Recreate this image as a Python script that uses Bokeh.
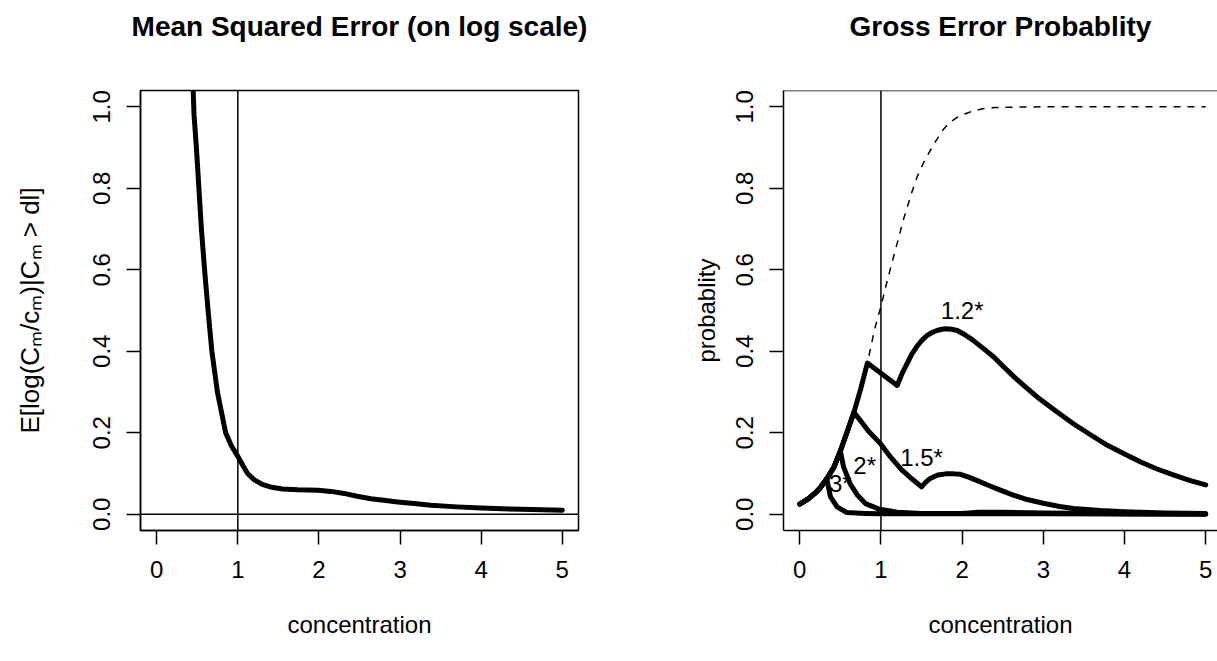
from bokeh.plotting import figure
from bokeh.models import Range1d, Span, FixedTicker, ColumnDataSource, Title
from bokeh.layouts import row
from bokeh.embed import file_html
from bokeh.resources import INLINE
from bokeh.core.properties import value

FONT = "Liberation Sans"

# ---- data -------------------------------------------------------------
x_ticks = [0, 1, 2, 3, 4, 5]
y_ticks = [0.0, 0.2, 0.4, 0.6, 0.8, 1.0]
y_tick_labels = {0.0: "0.0", 0.2: "0.2", 0.4: "0.4", 0.6: "0.6", 0.8: "0.8", 1.0: "1.0"}

# mean squared error of log concentration, given detection
mse_conc = [0.43, 0.46, 0.489, 0.52, 0.551, 0.59, 0.633, 0.68, 0.748, 0.85, 0.92, 1.0,
            1.06, 1.12, 1.2, 1.3, 1.42, 1.55, 1.74, 1.99, 2.15, 2.31, 2.47, 2.64, 2.8,
            2.97, 3.17, 3.38, 3.7, 4.0, 4.5, 5.0]
mse_val = [1.15, 0.98, 0.9, 0.8, 0.7, 0.6, 0.5, 0.4, 0.3, 0.2, 0.168, 0.142,
           0.12, 0.1, 0.085, 0.073, 0.066, 0.062, 0.06, 0.059, 0.056, 0.051, 0.044, 0.038,
           0.034, 0.03, 0.026, 0.022, 0.018, 0.015, 0.012, 0.01]

# common rising branch shared by all gross-error curves (and detection prob.)
rise_conc = [0.0, 0.1, 0.185, 0.25, 0.333, 0.42, 0.5, 0.58, 0.667, 0.75, 0.833]
rise_prob = [0.025, 0.037, 0.051, 0.064, 0.087, 0.115, 0.155, 0.2, 0.25, 0.307, 0.371]

# probability of detection (dashed), after the shared branch
detect_conc = [0.88, 0.93, 1.0, 1.08, 1.16, 1.22, 1.28, 1.38, 1.45, 1.53, 1.65, 1.77,
               1.85, 1.94, 2.04, 2.14, 2.25, 2.4, 2.6, 3.0, 4.0, 5.0]
detect_prob = [0.415, 0.46, 0.51, 0.575, 0.635, 0.68, 0.725, 0.79, 0.83, 0.865, 0.908, 0.945,
               0.962, 0.974, 0.983, 0.99, 0.995, 0.998, 0.999, 1.0, 1.0, 1.0]

# gross error probability for factor 1.2 (after its kink at 1/1.2)
ge12_conc = [1.2, 1.26, 1.32, 1.38, 1.45, 1.51, 1.57, 1.63, 1.69, 1.75, 1.8, 1.87, 1.94,
             2.04, 2.14, 2.26, 2.39, 2.51, 2.64, 2.8, 2.96, 3.17, 3.37, 3.58, 3.79, 4.0,
             4.2, 4.4, 4.61, 4.8, 5.0]
ge12_prob = [0.316, 0.345, 0.369, 0.393, 0.414, 0.428, 0.439, 0.446, 0.451, 0.454, 0.455,
             0.454, 0.451, 0.44, 0.426, 0.407, 0.386, 0.362, 0.337, 0.309, 0.282, 0.251,
             0.222, 0.195, 0.169, 0.148, 0.128, 0.111, 0.096, 0.083, 0.072]

# factor 1.5
ge15_conc = [0.75, 0.85, 1.0, 1.12, 1.25, 1.38, 1.5, 1.55, 1.6, 1.7, 1.8, 1.9, 1.98, 2.08,
             2.18, 2.32, 2.47, 2.63, 2.8, 3.0, 3.2, 3.37, 3.7, 4.0, 4.5, 5.0]
ge15_prob = [0.229, 0.203, 0.172, 0.14, 0.11, 0.087, 0.067, 0.078, 0.087, 0.096, 0.099,
             0.099, 0.098, 0.091, 0.083, 0.071, 0.059, 0.047, 0.036, 0.027, 0.019, 0.014,
             0.009, 0.006, 0.003, 0.002]

# factor 2
ge2_conc = [0.54, 0.62, 0.71, 0.81, 0.97, 1.2, 1.5, 2.0, 2.2, 2.5, 3.0, 4.0, 5.0]
ge2_prob = [0.116, 0.075, 0.047, 0.026, 0.013, 0.005, 0.002, 0.002, 0.005, 0.005, 0.003,
            0.001, 0.0005]

# factor 3
ge3_conc = [0.378, 0.46, 0.58, 0.8, 1.0, 3.0, 5.0]
ge3_prob = [0.043, 0.018, 0.004, 0.002, 0.001, 0.001, 0.0]

factors = [1.2, 1.5, 2.0, 3.0]
factor_labels = ["1.2*", "1.5*", "2*", "3*"]
label_conc = [2.0, 1.5, 0.8, 0.5]
label_prob = [0.5, 0.14, 0.12, 0.075]

X_LIM = (-0.2, 5.2)
Y_LIM = (-0.04, 1.04)


def kinked(factor, tail_x, tail_y):
    """Shared rising branch up to the kink at 1/factor, then the curve's own tail."""
    kink = 1.0 / factor
    xs = [x for x in rise_conc if x <= kink + 0.005]
    ys = rise_prob[:len(xs)]
    return xs + tail_x, ys + tail_y


def base_figure(width, border_left, border_right, x_end, title):
    p = figure(width=width, height=661,
               x_range=Range1d(X_LIM[0], x_end), y_range=Range1d(*Y_LIM),
               output_backend="svg", toolbar_location=None,
               min_border_left=border_left, min_border_right=border_right,
               min_border_top=90, min_border_bottom=131)
    p.xgrid.visible = False
    p.ygrid.visible = False
    p.background_fill_color = "white"
    p.border_fill_color = "white"

    # an invisible spacer line under the title lifts it into the upper margin
    p.add_layout(Title(text=" ", text_font=FONT, text_font_size="24px",
                       standoff=15), "above")
    p.add_layout(Title(text=title, align="center", standoff=10,
                       text_font=FONT, text_font_size="28px",
                       text_font_style="bold", text_color="black"), "above")

    for ax in (p.xaxis[0], p.yaxis[0]):
        ax.major_tick_out = 14
        ax.major_tick_in = 0
        ax.minor_tick_out = 0
        ax.minor_tick_in = 0
        ax.major_tick_line_width = 1.5
        ax.major_tick_line_color = "black"
        ax.axis_line_width = 1.5
        ax.axis_line_color = "black"
        ax.major_label_text_font = FONT
        ax.major_label_text_font_size = "24px"
        ax.major_label_text_color = "black"
        ax.axis_label_text_font = FONT
        ax.axis_label_text_font_size = "24px"
        ax.axis_label_text_font_style = "normal"
        ax.axis_label_text_color = "black"
        ax.major_label_standoff = 16

    p.xaxis.ticker = FixedTicker(ticks=x_ticks)
    p.yaxis.ticker = FixedTicker(ticks=y_ticks)
    p.yaxis.major_label_overrides = y_tick_labels
    p.yaxis.major_label_orientation = "vertical"
    p.xaxis.axis_label = "concentration"
    p.xaxis.axis_label_standoff = 30
    return p


# ---- left: mean squared error ----------------------------------------
left = base_figure(608, 140, 30, X_LIM[1], "Mean Squared Error (on log scale)")
left.outline_line_color = "black"
left.outline_line_width = 1.5
left.yaxis.axis_label = "E[log(C\u2098/c\u2098)|C\u2098 > dl]"
left.yaxis.axis_label_text_font_size = "26px"
left.yaxis.axis_label_standoff = 46

left.add_layout(Span(location=1, dimension="height", line_color="black", line_width=1.5))
left.add_layout(Span(location=0, dimension="width", line_color="black", line_width=1.5))
left.line(mse_conc, mse_val, line_color="black", line_width=5,
          line_join="round", line_cap="round")

# ---- right: gross error probability ----------------------------------
right = base_figure(609, 175, 0, 5.145, "Gross Error Probablity")
right.outline_line_color = None
right.yaxis.axis_label = "probablity"
right.yaxis.axis_label_standoff = 14
right.add_layout(Span(location=Y_LIM[1], dimension="width",
                      line_color="black", line_width=1.5))
right.add_layout(Span(location=1, dimension="height", line_color="black", line_width=1.5))

det_x = rise_conc + detect_conc
det_y = rise_prob + detect_prob
right.line(det_x, det_y, line_color="black", line_width=1.5, line_dash="7 7")

tails = [(ge12_conc, ge12_prob), (ge15_conc, ge15_prob),
         (ge2_conc, ge2_prob), (ge3_conc, ge3_prob)]
for factor, (tx, ty) in zip(factors, tails):
    xs, ys = kinked(factor, tx, ty)
    right.line(xs, ys, line_color="black", line_width=5,
               line_join="round", line_cap="round")

labels = ColumnDataSource(dict(x=label_conc, y=label_prob, text=factor_labels))
right.text(x="x", y="y", text="text", source=labels,
           text_font=value(FONT), text_font_size="24px", text_color="black",
           text_align="center", text_baseline="middle")

layout = row(left, right, spacing=0)
open("out.html", "w").write(file_html(layout, INLINE))
